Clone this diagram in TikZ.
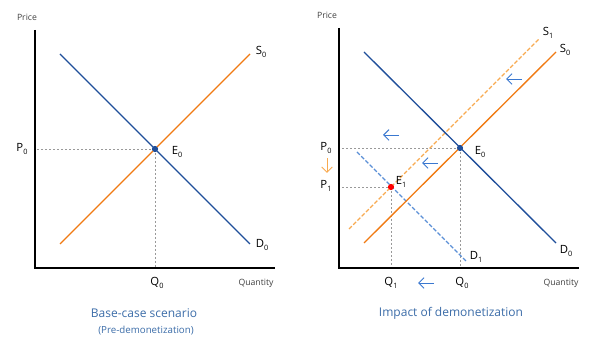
\documentclass[tikz,border=0pt]{standalone}
\usepackage{fontspec}
\setmainfont{Open Sans}
\usetikzlibrary{arrows.meta}
\definecolor{dblue}{HTML}{1F4E9A}
\definecolor{lblue}{HTML}{5B8FD6}
\definecolor{orng}{HTML}{F07A12}
\definecolor{lorng}{HTML}{F8AA50}
\definecolor{ttl}{HTML}{3B6CA8}
\definecolor{arrb}{HTML}{3A78D0}
\definecolor{dotg}{HTML}{999999}
\newcommand\sbs[1]{\raisebox{-0.45ex}{\fontsize{5.5}{6}\selectfont #1}}
\tikzset{
  axis/.style={line width=1.5pt,black},
  dem/.style={line width=1pt,dblue},
  sup/.style={line width=1pt,orng},
  dsup/.style={line width=1pt,lorng,dash pattern=on 3pt off 1.5pt},
  ddem/.style={line width=1pt,lblue,dash pattern=on 3pt off 1.5pt},
  guide/.style={line width=0.6pt,dotg,dash pattern=on 1.5pt off 1.5pt},
  lbl/.style={font=\fontsize{8.5}{10}\selectfont,inner sep=1pt},
  small/.style={font=\fontsize{6.5}{8}\selectfont,text=black!75,inner sep=1pt},
  title/.style={font=\fontsize{9}{11}\selectfont,text=ttl,inner sep=1pt},
  subtitle/.style={font=\fontsize{7.3}{9}\selectfont,text=ttl,inner sep=1pt},
  shiftarr/.style={-{Straight Barb[length=4pt,width=8pt,line width=0.7pt]},line width=0.7pt,arrb},
  pt/.style={circle,inner sep=0pt,minimum size=4.6pt}
}
\begin{document}
\begin{tikzpicture}[x=0.75pt,y=-0.75pt]
\useasboundingbox (0,0) rectangle (600,359);
% ---------- left panel ----------
\coordinate (LO) at (35,268);
\coordinate (LYt) at (35,30);
\coordinate (LXr) at (275,268);
\draw[axis] (LYt) -- (LO) -- (LXr);
\node[small] (Lprice) at (27,17) {Price};
\node[small] (Lqty) at (256,283) {Quantity};
\coordinate (LD0a) at (60,54);
\coordinate (LD0b) at (250,244);
\coordinate (LS0a) at (60,244);
\coordinate (LS0b) at (250,54);
\draw[dem] (LD0a) -- (LD0b);
\draw[sup] (LS0a) -- (LS0b);
\coordinate (LE0) at (155,149);
\coordinate (LPax) at (37,149);
\coordinate (LQax) at (155,267);
\draw[guide] (LPax) -- (LE0);
\draw[guide] (LE0) -- (LQax);
\node[pt,fill=dblue] (LE0dot) at (LE0) {};
\node[lbl] (LE0l) at (177,152) {E\sbs{0}};
\node[lbl] (LP0) at (22,149) {P\sbs{0}};
\node[lbl] (LQ0) at (157,283) {Q\sbs{0}};
\node[lbl] (LS0l) at (261,52) {S\sbs{0}};
\node[lbl] (LD0l) at (262,245) {D\sbs{0}};
\node[title] (Lt) at (144,313) {Base-case scenario};
\node[subtitle] (Ls) at (146,331) {(Pre-demonetization)};
% ---------- right panel ----------
\coordinate (RO) at (339,268);
\coordinate (RYt) at (339,28);
\coordinate (RXr) at (579,268);
\draw[axis] (RYt) -- (RO) -- (RXr);
\node[small] (Rprice) at (327,15) {Price};
\node[small] (Rqty) at (561,283) {Quantity};
\coordinate (RD0a) at (364,52);
\coordinate (RD0b) at (556,243);
\coordinate (RS0a) at (364,243);
\coordinate (RS0b) at (556,52);
\coordinate (RS1a) at (349,229);
\coordinate (RS1b) at (539,39);
\coordinate (RD1a) at (357,152);
\coordinate (RD1b) at (467,262);
\coordinate (RE0) at (460,148);
\coordinate (RE1) at (391,187);
\coordinate (RP0ax) at (342,148);
\coordinate (RP1ax) at (342,187);
\coordinate (RQ0ax) at (460,267);
\coordinate (RQ1ax) at (391,267);
\draw[guide] (RP0ax) -- (RE0);
\draw[guide] (RE0) -- (RQ0ax);
\draw[guide] (RP1ax) -- (RE1);
\draw[guide] (RE1) -- (RQ1ax);
\draw[ddem] (RD1a) -- (RD1b);
\draw[dsup] (RS1a) -- (RS1b);
\draw[dem] (RD0a) -- (RD0b);
\draw[sup] (RS0a) -- (RS0b);
\node[pt,fill=dblue] (RE0dot) at (RE0) {};
\node[pt,fill=red] (RE1dot) at (RE1) {};
\node[lbl] (RE0l) at (480,152) {E\sbs{0}};
\node[lbl] (RE1l) at (401,182) {E\sbs{1}};
\node[lbl] (RP0) at (326,148) {P\sbs{0}};
\node[lbl] (RP1) at (326,186) {P\sbs{1}};
\node[lbl] (RQ0) at (462,283) {Q\sbs{0}};
\node[lbl] (RQ1) at (391,283) {Q\sbs{1}};
\node[lbl] (RS1l) at (548,33) {S\sbs{1}};
\node[lbl] (RS0l) at (565,50) {S\sbs{0}};
\node[lbl] (RD1l) at (476,257) {D\sbs{1}};
\node[lbl] (RD0l) at (566,251) {D\sbs{0}};
% shift arrows
\coordinate (A1s) at (399,135); \coordinate (A1e) at (383,135);
\coordinate (A2s) at (438,163); \coordinate (A2e) at (422,163);
\coordinate (A3s) at (522,79);  \coordinate (A3e) at (506,79);
\coordinate (A4s) at (434,283); \coordinate (A4e) at (418,283);
\coordinate (A5s) at (327,158); \coordinate (A5e) at (327,173);
\draw[shiftarr] (A1s) -- (A1e);
\draw[shiftarr] (A2s) -- (A2e);
\draw[shiftarr] (A3s) -- (A3e);
\draw[shiftarr] (A4s) -- (A4e);
\draw[shiftarr,lorng] (A5s) -- (A5e);
\node[title] (Rt) at (451,313) {Impact of demonetization};
\end{tikzpicture}
\end{document}
